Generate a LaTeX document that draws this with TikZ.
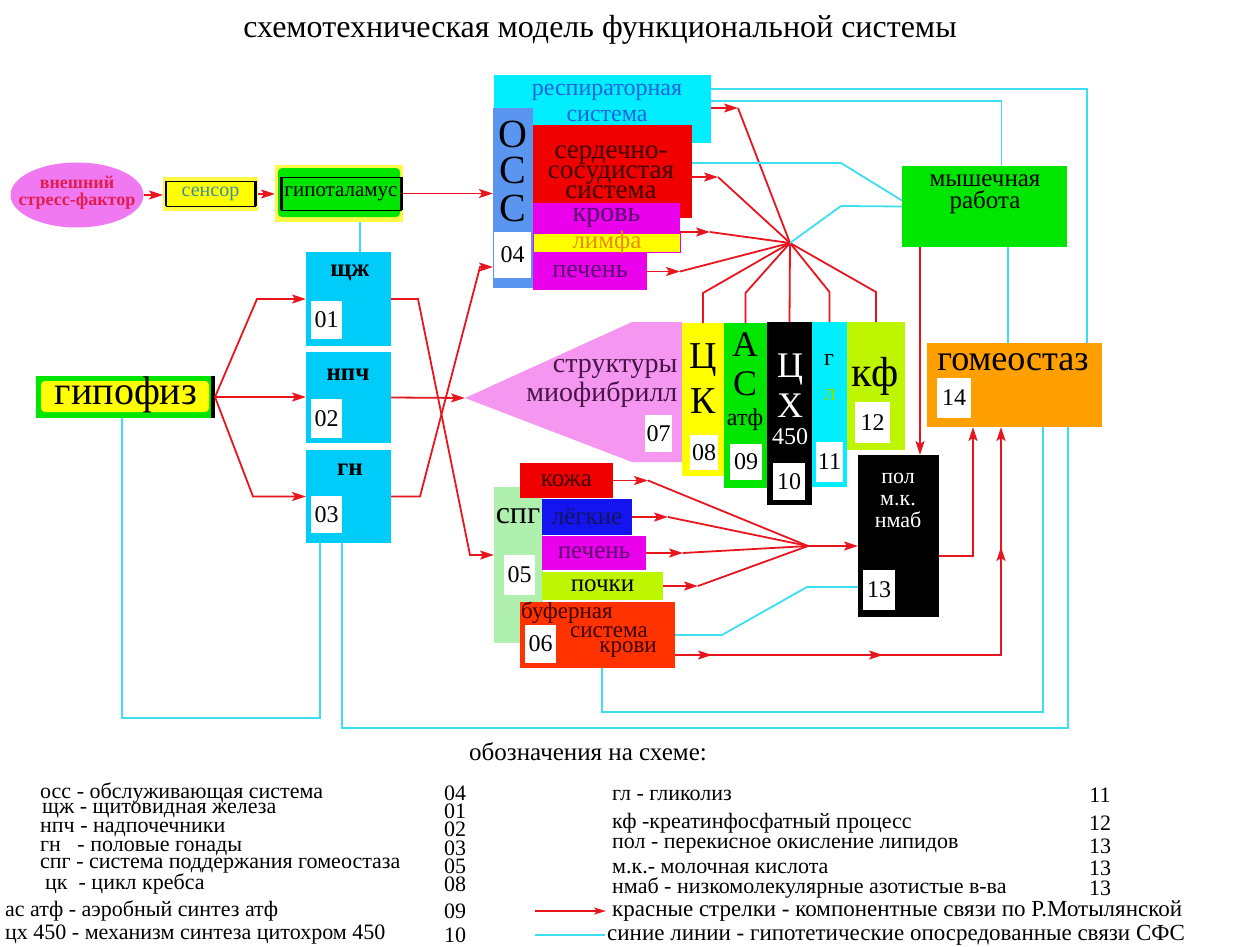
\documentclass[tikz,border=0pt]{standalone}
\usepackage{fontspec}
\setmainfont{Liberation Serif}
\usetikzlibrary{arrows.meta, positioning, shapes.geometric, decorations.markings}

\definecolor{lnred}{RGB}{232,20,30}
\definecolor{lncyan}{RGB}{60,222,240}
\definecolor{boxcyan}{RGB}{0,204,250}
\definecolor{aqua}{RGB}{0,238,255}
\definecolor{ossblue}{RGB}{90,150,240}
\definecolor{boxred}{RGB}{240,0,0}
\definecolor{boxmag}{RGB}{235,0,235}
\definecolor{boxyel}{RGB}{255,255,0}
\definecolor{glowyel}{RGB}{255,248,70}
\definecolor{boxgreen}{RGB}{0,230,0}
\definecolor{boxlime}{RGB}{190,245,0}
\definecolor{boxorange}{RGB}{255,160,0}
\definecolor{spggreen}{RGB}{175,240,175}
\definecolor{lungblue}{RGB}{20,20,240}
\definecolor{bufred}{RGB}{255,50,0}
\definecolor{myopink}{RGB}{245,150,240}
\definecolor{ellpink}{RGB}{240,120,240}
\definecolor{crimsontxt}{RGB}{225,30,80}
\definecolor{sensortxt}{RGB}{60,140,165}
\definecolor{resptxt}{RGB}{30,100,220}
\definecolor{darkred}{RGB}{60,0,0}
\definecolor{purptxt}{RGB}{90,0,110}
\definecolor{lymphtxt}{RGB}{235,140,0}
\definecolor{myotxt}{RGB}{70,20,70}
\definecolor{navytxt}{RGB}{20,20,90}
\definecolor{gltxt}{RGB}{150,220,0}

\newcommand{\fsz}[2]{\fontsize{#1}{#2}\selectfont}

\begin{document}
\begin{tikzpicture}[x=1pt, y=-1pt, font=\fsz{22}{22},
    blk/.style={inner sep=0pt, outer sep=0pt, anchor=north west},
    numbox/.style={blk, fill=white, font=\fsz{24}{24}},
    rline/.style={draw=lnred, line width=1.8pt},
    rarr/.style={rline, -{Stealth[length=14pt, width=9pt, inset=3pt]}},
    bline/.style={draw=lncyan, line width=1.8pt},
    midarrows/.style={postaction={decorate}, decoration={markings,
      mark=at position 37pt with {\arrow{Stealth[length=14pt, width=9pt, inset=3pt]}},
      mark=at position 208pt with {\arrow{Stealth[length=14pt, width=9pt, inset=3pt]}},
      mark=at position 434pt with {\arrow{Stealth[length=14pt, width=9pt, inset=3pt]}}}},
    legtxt/.style={anchor=west, inner sep=0pt, font=\fsz{22}{22}},
    legnum/.style={inner sep=0pt, font=\fsz{22}{22}}]
  \useasboundingbox (0,0) rectangle (1242,947);

  \node[font=\fsz{32}{32}] (title) at (600,30) {схемотехническая модель функциональной системы};

  % input chain
  \node[ellipse, fill=ellpink, minimum width=133pt, minimum height=65pt, inner sep=0pt] (stress) at (77,195) {};
  \node[font=\bfseries\fsz{18}{17}, text=crimsontxt, align=center] (stresstxt) at (77,193) {внешний\\стресс-фактор};
  \node[blk, fill=glowyel, minimum width=95pt, minimum height=34pt] (sensorbg) at (163,177) {};
  \node[blk, fill=boxyel, draw=black, line width=0.6pt, minimum width=89pt, minimum height=25pt,
    font=\fsz{20}{20}, text=sensortxt] (sensor) at (166,181) {сенсор};
  \draw[line width=1.5pt] (sensor.north west) -- (sensor.south west);
  \draw[line width=3pt] (sensor.north east) -- (sensor.south east);
  \node[blk, fill=glowyel, minimum width=128pt, minimum height=57pt] (hypobg) at (275,165) {};
  \node[blk, fill=boxgreen, rounded corners=4pt, minimum width=122pt, minimum height=49pt] (hypogr) at (278,168) {};
  \node[blk, draw=black, line width=0.6pt, minimum width=120pt, minimum height=33pt, font=\fsz{21}{21}] (hypo) at (281,177) {гипоталамус};
  \draw[line width=3pt] (hypo.north west) -- (hypo.south west);
  \draw[line width=3pt] (hypo.north east) -- (hypo.south east);

  % gipofiz and glands
  \node[blk, fill=boxgreen, minimum width=179pt, minimum height=42pt] (hyp) at (36,376) {};
  \node[blk, fill=boxyel, rounded corners=4pt, minimum width=168pt, minimum height=31pt] (hypin) at (41,381) {};
  \draw[line width=4pt] ([xshift=-2pt]hyp.north east) -- ([xshift=-2pt]hyp.south east);
  \node[font=\fsz{40}{40}] (hyptxt) at (126,395) {гипофиз};
  \node[blk, fill=boxcyan, minimum width=85pt, minimum height=94pt] (shchzh) at (306,252) {};
  \node[blk, fill=boxcyan, minimum width=85pt, minimum height=91pt] (npch) at (306,352) {};
  \node[blk, fill=boxcyan, minimum width=85pt, minimum height=93pt] (gn) at (306,450) {};
  \node[font=\bfseries\fsz{25}{25}] (shchzhtxt) at (350,273) {щж};
  \node[font=\bfseries\fsz{25}{25}] (npchtxt) at (348,375) {нпч};
  \node[font=\bfseries\fsz{25}{25}] (gntxt) at (350,470) {гн};

  % servicing system
  \node[blk, fill=aqua, minimum width=217pt, minimum height=68pt] (resp) at (494,75) {};
  \node[text=resptxt, font=\fsz{24}{26}, align=center] (resptxt) at (607,103) {респираторная\\система};
  \node[blk, fill=ossblue, minimum width=40pt, minimum height=180pt] (osscol) at (493,108) {};
  \node[font=\fsz{40}{40}] (ossa) at (513,134) {О};
  \node[font=\fsz{40}{40}] (ossb) at (513,170) {С};
  \node[font=\fsz{40}{40}] (ossc) at (513,208) {С};
  \node[blk, fill=boxred, minimum width=159pt, minimum height=93pt] (heart) at (533,125) {};
  \node[text=darkred, font=\fsz{27}{20}, align=center] (hearttxt) at (611,172) {сердечно-\\сосудистая\\система};
  \node[blk, fill=boxmag, minimum width=147pt, minimum height=30pt, font=\fsz{28}{28}, text=purptxt] (blood) at (533,203) {кровь};
  \node[blk, fill=boxyel, draw=boxmag, line width=1pt, minimum width=147pt, minimum height=19pt] (lymph) at (533,233) {};
  \node[font=\fsz{25}{25}, text=lymphtxt, inner sep=0pt] (lymphtxt) at (607,242) {лимфа};
  \node[blk, fill=boxmag, minimum width=114pt, minimum height=37pt, font=\fsz{26}{26}, text=purptxt] (liver) at (533,253) {печень};

  % myofibrils and energy columns
  \fill[myopink] (465,398) -- (632,322) -- (682,322) -- (682,462) -- (632,462) -- cycle;
  \coordinate (myotip) at (465,398);
  \node[text=myotxt, font=\fsz{28}{29}, align=right, anchor=east] (myotxt) at (681,383) {структуры\\миофибрилл};
  \node[blk, fill=boxyel, minimum width=42pt, minimum height=153pt] (ck) at (682,323) {};
  \node[blk, fill=boxgreen, minimum width=43pt, minimum height=165pt] (as) at (724,323) {};
  \node[blk, fill=black, minimum width=45pt, minimum height=183pt] (cx) at (767,322) {};
  \node[blk, fill=aqua, minimum width=35pt, minimum height=165pt] (gl) at (812,322) {};
  \node[blk, fill=boxlime, minimum width=58pt, minimum height=128pt] (kf) at (847,322) {};
  \node[font=\fsz{38}{38}] (cka) at (703,360) {Ц};
  \node[font=\fsz{38}{38}] (ckb) at (703,401) {К};
  \node[font=\fsz{36}{36}] (asa) at (745,345) {А};
  \node[font=\fsz{36}{36}] (asb) at (745,384) {С};
  \node[font=\fsz{24}{24}] (asc) at (745,420) {атф};
  \node[font=\fsz{36}{36}, text=white] (cxa) at (790,370) {Ц};
  \node[font=\fsz{36}{36}, text=white] (cxb) at (790,406) {Х};
  \node[font=\fsz{24}{24}, text=white] (cxc) at (790,437) {450};
  \node[font=\fsz{24}{24}] (gla) at (829,360) {г};
  \node[font=\fsz{24}{24}, text=gltxt] (glb) at (830,395) {л};
  \node[font=\fsz{42}{42}] (kftxt) at (875,376) {кф};

  % right side
  \node[blk, fill=boxgreen, minimum width=165pt, minimum height=81pt] (muscle) at (902,166) {};
  \node[font=\fsz{25}{22}, align=center] (muscletxt) at (985,194) {мышечная\\работа};
  \node[blk, fill=boxorange, minimum width=175pt, minimum height=84pt] (homeo) at (927,343) {};
  \node[font=\fsz{36}{36}] (homeotxt) at (1013,362) {гомеостаз};
  \node[blk, fill=black, minimum width=81pt, minimum height=162pt] (pol) at (858,455) {};
  \node[text=white, font=\fsz{22}{22}, align=center] (poltxt) at (898,500) {пол\\м.к.\\нмаб};

  % homeostasis support system
  \node[blk, fill=spggreen, minimum width=49pt, minimum height=156pt] (spg) at (494,487) {};
  \node[font=\fsz{32}{32}] (spgtxt) at (518,516) {спг};
  \node[blk, fill=boxred, minimum width=93pt, minimum height=35pt, font=\fsz{25}{25}, text=darkred] (skin) at (520,463) {кожа};
  \node[blk, fill=lungblue, minimum width=90pt, minimum height=36pt, font=\fsz{25}{25}, text=navytxt] (lungs) at (542,499) {лёгкие};
  \node[blk, fill=boxmag, minimum width=104pt, minimum height=34pt, font=\fsz{25}{25}, text=purptxt] (liver2) at (542,536) {печень};
  \node[blk, fill=boxlime, minimum width=121pt, minimum height=28pt, font=\fsz{25}{25}] (kidney) at (542,572) {почки};
  \node[blk, fill=bufred, minimum width=155pt, minimum height=66pt] (buffer) at (520,602) {};
  \node[text=darkred, anchor=west, inner sep=0pt, font=\fsz{23}{23}] (buftxta) at (521,613) {буферная};
  \node[text=darkred, font=\fsz{23}{23}] (buftxtb) at (609,632) {система};
  \node[text=darkred, font=\fsz{23}{23}] (buftxtc) at (628,650) {крови};

  % number boxes
  \foreach \nm/\x/\y/\w/\h in {01/311/301/31/38, 02/311/399/31/39, 03/311/496/31/37,
      04/494/232/37/46, 05/504/555/31/40, 06/525/625/31/38, 07/645/415/27/37,
      08/690/435/28/35, 09/730/444/32/36, 10/773/463/32/37, 11/816/442/27/40,
      12/855/402/35/41, 13/863/570/32/40, 14/937/378/34/40}
    \node[numbox, minimum width=\w pt, minimum height=\h pt] (n\nm) at (\x,\y) {\nm};

  % red links
  \draw[rarr] (stress.east) -- (stress.east -| sensorbg.west);
  \draw[rarr] (sensorbg.east) -- (sensorbg.east -| hypobg.west);
  \draw[rarr] (hypobg.east) -- (hypobg.east -| osscol.west);
  \draw[rarr] (hyp.east) -- ([xshift=-49pt]shchzh.west) -- (shchzh.west);
  \draw[rarr] (hyp.east) -- (hyp.east -| npch.west);
  \draw[rarr] (hyp.east) -- ([xshift=-53pt]gn.west) -- (gn.west);
  \draw[rarr] (shchzh.east) -- ++(27,0) -- ([xshift=-24pt,yshift=10pt]spg.west) -- ([yshift=10pt]spg.west);
  \draw[rarr] (npch.east) -- (myotip);
  \draw[rarr] (gn.east) -- ++(29,0) -- ([xshift=-13pt,yshift=-69pt]osscol.west) -- ([yshift=-69pt]osscol.west);

  \coordinate (hub) at (790,243);
  \draw[rarr] ([yshift=-33pt]resp.north east) -- ++(27,0) coordinate (ra1);
  \draw[rarr] ([yshift=-52pt]heart.north east) -- ++(26,0) coordinate (ra2);
  \draw[rarr] ([yshift=-29pt]blood.north east) -- ++(30,0) coordinate (ra3);
  \draw[rarr] (liver.east) -- ++(33,0) coordinate (ra4);
  \foreach \p in {ra1, ra2, ra3, ra4} \draw[rline] (\p) -- (hub);
  \foreach \c in {ck, as, gl, kf} \draw[rline] (hub) -- ([yshift=30pt]\c.north) -- (\c.north);
  \draw[rline] (hub) -- (cx.north);

  \coordinate (hub2) at (808,546);
  \draw[rarr] (skin.east) -- ++(35,0) coordinate (sa1);
  \draw[rarr] (lungs.east) -- ++(36,0) coordinate (sa2);
  \draw[rarr] (liver2.east) -- ++(37,0) coordinate (sa3);
  \draw[rarr] (kidney.east) -- ++(35,0) coordinate (sa4);
  \foreach \p in {sa1, sa2, sa3, sa4} \draw[rline] (\p) -- (hub2);
  \draw[rarr] (hub2) -- (hub2 -| pol.west);

  \coordinate (mr) at ([xshift=18pt]muscle.south west);
  \draw[rarr] (mr) -- (mr |- pol.north);
  \draw[rarr] ([yshift=-101pt]pol.north east) -| ([xshift=46pt]homeo.south west);
  \draw[rarr, midarrows] ([yshift=13pt]buffer.south east) -| ([xshift=74pt]homeo.south west);

  % blue links
  \coordinate (hb) at ([xshift=85pt]hypobg.south west);
  \draw[bline] (hb) -- (hb |- shchzh.north);
  \draw[bline] ([yshift=-14pt]resp.north east) -| ([xshift=-15pt]homeo.north east);
  \draw[bline] ([yshift=-26pt]resp.north east) -| ([xshift=17pt]muscle.north);
  \draw[bline] ([yshift=-38pt]heart.north east) -- ++(149,0) -- ([yshift=6pt]muscle.west);
  \draw[bline] (hub) -- ++(51,-37) -- (muscle.west);
  \coordinate (mb) at ([xshift=106pt]muscle.south west);
  \draw[bline] (mb) -- (mb |- homeo.north);
  \draw[bline] ([yshift=33pt]buffer.south east) -- ++(47,0) -- ++(85,-48) -- ([yshift=-132pt]pol.north west);
  \draw[bline] ([xshift=82pt]buffer.south west) -- ++(0,44) -| ([xshift=116pt]homeo.south west);
  \draw[bline] ([xshift=36pt]gn.south west) -- ++(0,185) -| ([xshift=141pt]homeo.south west);
  \draw[bline] ([xshift=86pt]hyp.south west) -- ++(0,300) -| ([xshift=14pt]gn.south west);

  % legend
  \node[font=\fsz{25}{25}] (legtitle) at (588,752) {обозначения на схеме:};
  \foreach \x/\y/\t/\n [count=\i] in {40/793/осс - обслуживающая система/04,
      42/811/щж - щитовидная железа/01, 40/829/нпч - надпочечники/02,
      40/848/гн\ \ \ - половые гонады/03, 40/866/спг - система поддержания гомеостаза/05,
      45/884/цк\ \ - цикл кребса/08, 5/911/ас атф - аэробный синтез атф/09,
      5/935/цх 450 - механизм синтеза цитохром 450/10} {
    \node[legtxt] (lgl\i) at (\x,\y) {\t};
    \node[legnum] (lgln\i) at (455,\y) {\n};
  }
  \foreach \y/\t/\n [count=\i] in {795/гл - гликолиз/11, 823/кф -креатинфосфатный процесс/12,
      846/пол - перекисное окисление липидов/13, 868/м.к.- молочная кислота/13,
      888/нмаб - низкомолекулярные азотистые в-ва/13} {
    \node[legtxt] (lgr\i) at (612,\y) {\t};
    \node[legnum] (lgrn\i) at (1100,\y) {\n};
  }
  \node[legtxt, font=\fsz{23}{23}] (lgred) at (612,911) {красные стрелки - компонентные связи по Р.Мотылянской};
  \node[legtxt, font=\fsz{23}{23}] (lgblue) at (607,935) {синие линии - гипотетические опосредованные связи СФС};
  \coordinate (lr0) at (535,911);
  \draw[rline, line width=1.3pt, -{Stealth[length=12pt, width=7pt, inset=3pt]}] (lr0) -- ([xshift=-6pt]lgred.west);
  \coordinate (lb0) at (535,935);
  \draw[bline] (lb0) -- ([xshift=-2pt]lgblue.west);
\end{tikzpicture}
\end{document}
